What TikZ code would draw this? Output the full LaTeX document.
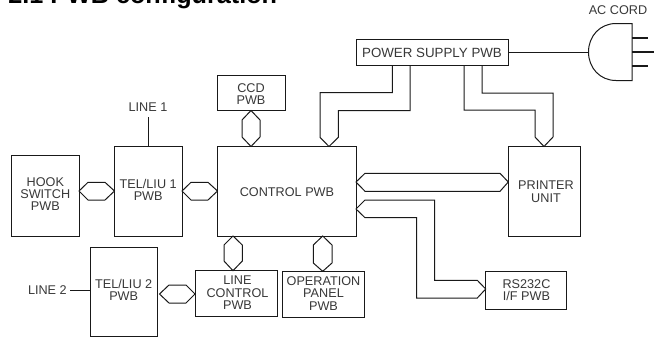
\documentclass[tikz,border=0pt]{standalone}
\usepackage{fontspec}
\setmainfont{Liberation Sans}
\tikzset{
  board/.style={draw=black!90,line width=0.75pt,fill=white},
  bus/.style={draw=black!90,line width=0.75pt,line join=miter},
  lbl/.style={font=\fontsize{9.5}{9.3}\selectfont,text=black!78,inner sep=0pt}
}
\newcommand{\boardbox}[5]{% name, x1,y1,x2,y2
  \coordinate (#1-nw) at (#2,#3);
  \coordinate (#1-se) at (#4,#5);
  \draw[board] (#1-nw) rectangle (#1-se);
}
\begin{document}
\begin{tikzpicture}[x=0.75pt,y=-0.75pt]
\useasboundingbox (0,0) rectangle (654,337);
\clip (0,0) rectangle (654,337);
\node[anchor=base west,inner sep=0pt,font=\bfseries\fontsize{18.9}{20}\selectfont] (title) at (8,3.5) {2.1 PWB configuration};
% boards
\boardbox{hook}{11.5}{155}{79}{236}
\boardbox{tela}{114.5}{146.5}{182}{236}
\boardbox{ctrl}{217.5}{146.5}{356}{236}
\boardbox{ccd}{217.5}{75}{285}{110.5}
\boardbox{pow}{356}{39.5}{508.3}{65.5}
\boardbox{prn}{508.3}{146.5}{580}{236}
\boardbox{rs}{485.7}{271.7}{566.5}{309.3}
\boardbox{lc}{195}{270.7}{277}{316}
\boardbox{op}{282.5}{271.3}{364.5}{317}
\boardbox{telb}{90}{247}{157.5}{336}
% texts
\node[lbl,align=center] (hookT) at (45.3,194) {HOOK\\SWITCH\\PWB};
\node[lbl,align=center] (telaT) at (148.2,190) {TEL/LIU 1\\PWB};
\node[lbl] (ctrlT) at (287,192.5) {CONTROL PWB};
\node[lbl,align=center] (ccdT) at (251,94) {CCD\\PWB};
\node[lbl,font=\fontsize{10}{9.3}\selectfont] (powT) at (432,53) {POWER SUPPLY PWB};
\node[lbl,align=center] (prnT) at (546,191.5) {PRINTER\\UNIT};
\node[lbl,align=center] (rsT) at (526.5,290) {RS232C\\I/F PWB};
\node[lbl,align=center] (lcT) at (237.5,293) {LINE\\CONTROL\\PWB};
\node[lbl,align=center] (opT) at (323.5,293.5) {OPERATION\\PANEL\\PWB};
\node[lbl,align=center] (telbT) at (123.7,290) {TEL/LIU 2\\PWB};
\node[lbl] (l1) at (148,107.5) {LINE 1};
\node[lbl,anchor=east] (l2) at (67,290) {LINE 2};
\node[lbl] (ac) at (618,10) {AC CORD};
% simple lines
\coordinate (l1a) at (148,117); \coordinate (l1b) at (148,146.5);
\draw[bus] (l1a) -- (l1b);
\coordinate (l2a) at (70,290.5); \coordinate (l2b) at (90,290.5);
\draw[bus] (l2a) -- (l2b);
% hex connectors
\draw[bus] (79,191) -- (88,182.3) -- (105,182.3) -- (114.5,191) -- (105,200) -- (88,200) -- cycle;
\draw[bus] (182,191) -- (191,182.3) -- (208,182.3) -- (217.5,191) -- (208,200) -- (191,200) -- cycle;
\draw[bus] (251,110.5) -- (260,120) -- (260,137) -- (251,146.5) -- (242,137) -- (242,120) -- cycle;
\draw[bus] (233,236) -- (242.3,245) -- (242.3,261) -- (233,270.7) -- (224,261) -- (224,245) -- cycle;
\draw[bus] (322.7,236) -- (332,245) -- (332,263) -- (322.7,271.3) -- (313.3,263) -- (313.3,245) -- cycle;
\draw[bus] (159.5,294) -- (169,285) -- (186,285) -- (195,294) -- (186,303) -- (169,303) -- cycle;
\draw[bus] (356,182) -- (365,173.3) -- (500,173.3) -- (508.3,182) -- (500,191.3) -- (365,191.3) -- cycle;
\draw[bus] (356,209) -- (365,200) -- (434.7,200) -- (434.7,280.3) -- (477.3,280.3) -- (485.7,289) -- (477.3,298) -- (416.7,298) -- (416.7,217.7) -- (365,217.7) -- cycle;
% power feeds
\draw[bus] (392.3,65.5) -- (392.3,92.7) -- (320,92.7) -- (320,137.3) -- (329,146.5) -- (338.3,137.3) -- (338.3,110.5) -- (410,110.5) -- (410,65.5);
\draw[bus] (464,65.5) -- (464,110) -- (535,110) -- (535,137) -- (544,146.5) -- (553,137) -- (553,93) -- (482,93) -- (482,65.5);
% plug
\coordinate (plugW) at (588.5,52);
\draw[bus] (pow-se |- plugW) -- (plugW);
\draw[bus] (632,23.5) -- (616,23.5) .. controls (600,23.5) and (588.5,36) .. (plugW) .. controls (588.5,68) and (600,80.5) .. (616,80.5) -- (632,80.5) -- cycle;
\draw[bus,line width=1pt] (632,38) -- (648,38);
\draw[bus,line width=1pt] (632,52) -- (654,52);
\draw[bus,line width=1pt] (632,66) -- (648,66);
\end{tikzpicture}
\end{document}
